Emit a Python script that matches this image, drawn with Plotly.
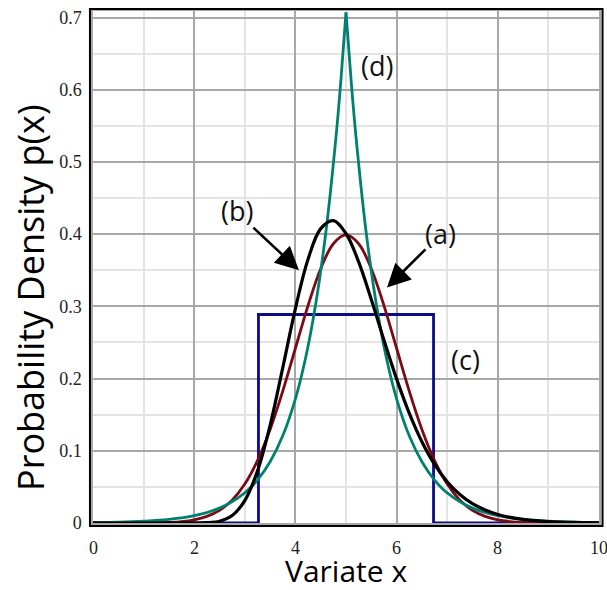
import plotly.graph_objects as go

# Sample points along the variate axis
x_grid = [0, 0.25, 0.5, 0.75, 1.0, 1.25, 1.5, 1.75, 2.0, 2.25, 2.5, 2.75, 3.0, 3.25,
          3.5, 3.75, 4.0, 4.25, 4.5, 4.75, 5.0, 5.25, 5.5, 5.75, 6.0, 6.25, 6.5,
          6.75, 7.0, 7.25, 7.5, 7.75, 8.0, 8.25, 8.5, 8.75, 9.0, 9.25, 9.5, 9.75, 10.0]

# (a) normal density
p_a = [0.0000, 0.0000, 0.0000, 0.0000, 0.0001, 0.0004, 0.0009, 0.0020, 0.0044, 0.0091,
       0.0175, 0.0317, 0.0540, 0.0863, 0.1295, 0.1826, 0.2420, 0.3011, 0.3521, 0.3867,
       0.3989, 0.3867, 0.3521, 0.3011, 0.2420, 0.1826, 0.1295, 0.0863, 0.0540, 0.0317,
       0.0175, 0.0091, 0.0044, 0.0020, 0.0009, 0.0004, 0.0001, 0.0000, 0.0000, 0.0000,
       0.0000]

# (b) skewed (log-normal) density
p_b = [0.0000, 0.0000, 0.0000, 0.0000, 0.0000, 0.0000, 0.0000, 0.0000, 0.0000, 0.0004,
       0.0025, 0.0103, 0.0310, 0.0718, 0.1352, 0.2149, 0.2970, 0.3653, 0.4076, 0.4187,
       0.4009, 0.3615, 0.3095, 0.2534, 0.1996, 0.1521, 0.1125, 0.0811, 0.0572, 0.0395,
       0.0268, 0.0180, 0.0119, 0.0077, 0.0050, 0.0032, 0.0020, 0.0013, 0.0008, 0.0005,
       0.0003]

# (c) uniform density
x_c = [0, 3.27, 3.27, 6.73, 6.73, 10]
p_c = [0, 0, 0.2887, 0.2887, 0, 0]

# (d) double-exponential (Laplace) density
x_d = [0, 0.5, 1.0, 1.5, 2.0, 2.5, 3.0, 3.25, 3.5, 3.75, 4.0, 4.2, 4.4, 4.6, 4.8, 4.9,
       5.0,
       5.1, 5.2, 5.4, 5.6, 5.8, 6.0, 6.25, 6.5, 6.75, 7.0, 7.5, 8.0, 8.5, 9.0, 9.5, 10.0]
p_d = [0.0006, 0.0012, 0.0025, 0.0050, 0.0102, 0.0206, 0.0418, 0.0595, 0.0848, 0.1207,
       0.1719, 0.2281, 0.3027, 0.4016, 0.5329, 0.6139,
       0.7071,
       0.6139, 0.5329, 0.4016, 0.3027, 0.2281, 0.1719, 0.1207, 0.0848, 0.0595, 0.0418,
       0.0206, 0.0102, 0.0050, 0.0025, 0.0012, 0.0006]

x_ticks = [0, 2, 4, 6, 8, 10]
x_tick_text = ["0", "2", "4", "6", "8", "10"]
y_ticks = [0, 0.1, 0.2, 0.3, 0.4, 0.5, 0.6, 0.7]
y_tick_text = ["0", "0.1", "0.2", "0.3", "0.4", "0.5", "0.6", "0.7"]

C_A = "#7a0a14"
C_B = "#000000"
C_C = "#0c0c86"
C_D = "#008070"

fig = go.Figure()
fig.add_trace(go.Scatter(x=x_c, y=p_c, mode="lines", line=dict(color=C_C, width=2.8),
                         showlegend=False))
fig.add_trace(go.Scatter(x=x_grid, y=p_a, mode="lines",
                         line=dict(color=C_A, width=2.8, shape="spline"), showlegend=False))
peak = x_d.index(5.0)
fig.add_trace(go.Scatter(x=x_d[:peak + 1], y=p_d[:peak + 1], mode="lines",
                         line=dict(color=C_D, width=2.8, shape="spline"), showlegend=False))
fig.add_trace(go.Scatter(x=x_d[peak:], y=p_d[peak:], mode="lines",
                         line=dict(color=C_D, width=2.8, shape="spline"), showlegend=False))
fig.add_trace(go.Scatter(x=x_grid, y=p_b, mode="lines",
                         line=dict(color=C_B, width=3.2, shape="spline"), showlegend=False))

label_font = dict(family="Open Sans, sans-serif", size=27, color="#111111")
for txt, lx, ly in [("(a)", 6.86, 0.401), ("(b)", 2.85, 0.433),
                    ("(c)", 7.37, 0.2265), ("(d)", 5.61, 0.634)]:
    fig.add_annotation(x=lx, y=ly, text=txt, showarrow=False, font=label_font,
                       xanchor="center", yanchor="middle")

# pointer arrows for (b) and (a)
for tip_x, tip_y, tail_x, tail_y in [(4.07, 0.350, 3.14, 0.411), (5.81, 0.326, 6.60, 0.381)]:
    fig.add_annotation(x=tip_x, y=tip_y, ax=tail_x, ay=tail_y, xref="x", yref="y",
                       axref="x", ayref="y", text="", showarrow=True, arrowhead=2,
                       arrowsize=1.8, arrowwidth=2.6, arrowcolor="#000000")

tick_font = dict(family="Liberation Serif, serif", size=18, color="#222222")

# x tick labels placed as text so the last one may sit at the page edge
for tv, tt in zip(x_ticks, x_tick_text):
    fig.add_annotation(x=tv, y=-0.049, xref="x", yref="paper", text=tt, showarrow=False,
                       font=tick_font, xanchor="center", yanchor="middle")

# axis titles
fig.add_annotation(x=0.5, y=-0.092, xref="paper", yref="paper", text="Variate x",
                   showarrow=False, font=dict(family="Open Sans, sans-serif", size=30,
                                              color="#000000"),
                   xanchor="center", yanchor="middle")
fig.add_annotation(x=-0.124, y=0.44, xref="paper", yref="paper",
                   text="Probability Density p(x)", textangle=-90, showarrow=False,
                   font=dict(family="Open Sans, sans-serif", size=36, color="#000000"),
                   xanchor="center", yanchor="middle")

# outer black frame
fig.add_shape(type="rect", xref="paper", yref="paper", x0=-0.006, x1=1.007,
              y0=-0.006, y1=1.004, line=dict(color="#000000", width=2), layer="above")

fig.update_xaxes(range=[0, 10], tickvals=x_ticks, showticklabels=False, showgrid=True,
                 gridcolor="#a8a8a8", gridwidth=1.5,
                 minor=dict(dtick=1, showgrid=True, gridcolor="#e4e4e4", gridwidth=1.5),
                 showline=True, linecolor="#a8a8a8", linewidth=1.5, mirror=True,
                 zeroline=False, ticks="", automargin=False)
fig.update_yaxes(range=[0, 0.709], tickvals=y_ticks, ticktext=y_tick_text, showgrid=True,
                 gridcolor="#a8a8a8", gridwidth=1.5,
                 minor=dict(dtick=0.05, tick0=0, showgrid=True, gridcolor="#e4e4e4",
                            gridwidth=1.5),
                 showline=True, linecolor="#a8a8a8", linewidth=1.5, mirror=True,
                 zeroline=False, tickfont=tick_font, ticks="", ticklabelstandoff=6,
                 automargin=False)

fig.update_layout(width=607, height=590, margin=dict(l=93, r=8, t=11, b=67),
                  plot_bgcolor="#ffffff", paper_bgcolor="#ffffff")

fig.write_html("out.html")
